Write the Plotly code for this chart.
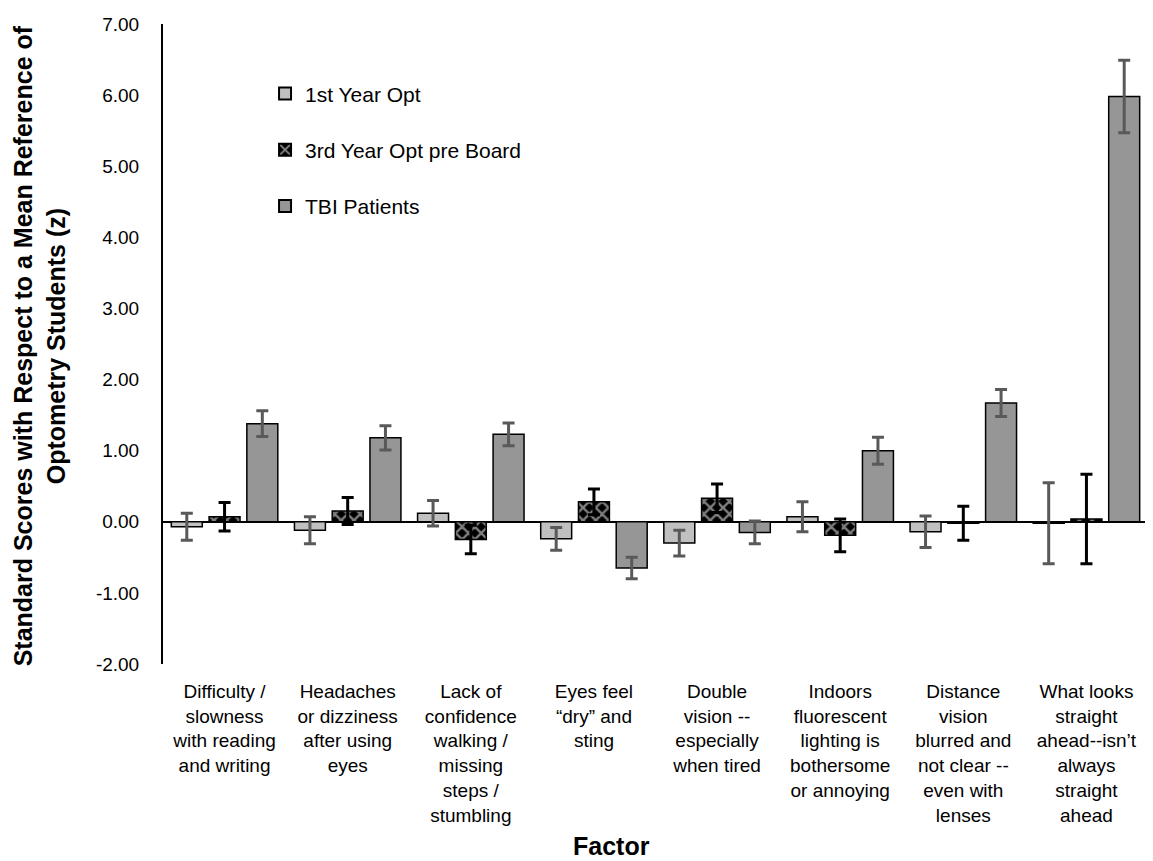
import plotly.graph_objects as go

categories = [
    "Difficulty /<br>slowness<br>with reading<br>and writing",
    "Headaches<br>or dizziness<br>after using<br>eyes",
    "Lack of<br>confidence<br>walking /<br>missing<br>steps /<br>stumbling",
    "Eyes feel<br>“dry” and<br>sting",
    "Double<br>vision --<br>especially<br>when tired",
    "Indoors<br>fluorescent<br>lighting is<br>bothersome<br>or annoying",
    "Distance<br>vision<br>blurred and<br>not clear --<br>even with<br>lenses",
    "What looks<br>straight<br>ahead--isn’t<br>always<br>straight<br>ahead",
]

first_year = [-0.07, -0.12, 0.12, -0.24, -0.30, 0.07, -0.14, -0.02]
first_year_err = [0.19, 0.19, 0.18, 0.16, 0.18, 0.21, 0.22, 0.57]
third_year = [0.07, 0.15, -0.25, 0.28, 0.33, -0.19, -0.02, 0.04]
third_year_err = [0.20, 0.19, 0.20, 0.18, 0.20, 0.23, 0.24, 0.63]
tbi = [1.38, 1.18, 1.23, -0.65, -0.15, 1.00, 1.67, 5.98]
tbi_err = [0.18, 0.17, 0.16, 0.15, 0.16, 0.19, 0.19, 0.51]

y_ticks = [-2, -1, 0, 1, 2, 3, 4, 5, 6, 7]
y_tick_text = ["-2.00", "-1.00", "0.00", "1.00", "2.00", "3.00", "4.00", "5.00", "6.00", "7.00"]

FONT = "Liberation Sans, Arial, sans-serif"

fig = go.Figure()
fig.add_trace(go.Bar(
    name="1st Year Opt", x=categories, y=first_year, legendgroup="a",
    marker=dict(color="#c0c0c0", line=dict(color="black", width=1.5)),
    error_y=dict(type="data", array=first_year_err, color="#595959", thickness=3, width=6),
))
fig.add_trace(go.Bar(
    name="3rd Year Opt pre Board", x=categories, y=third_year, legendgroup="b",
    marker=dict(color="black", line=dict(color="black", width=1.5),
                pattern=dict(shape="x", fgcolor="white", bgcolor="black", size=9, solidity=0.45)),
    error_y=dict(type="data", array=third_year_err, color="black", thickness=3, width=6),
))
fig.add_trace(go.Bar(
    name="TBI Patients", x=categories, y=tbi, legendgroup="c",
    marker=dict(color="#969696", line=dict(color="black", width=1.5)),
    error_y=dict(type="data", array=tbi_err, color="#595959", thickness=3, width=6),
))

fig.update_layout(
    width=1145, height=853,
    margin=dict(l=155, r=5, t=16, b=197),
    paper_bgcolor="white", plot_bgcolor="white",
    font=dict(family=FONT, size=19, color="black"),
    barmode="group", bargap=0.08, bargroupgap=0.18,
    showlegend=True,
    legend=dict(x=0.1036, y=0.923, xanchor="left", yanchor="top",
                bgcolor="rgba(0,0,0,0)", font=dict(size=21),
                tracegroupgap=26, itemsizing="constant"),
    xaxis=dict(
        showline=False, showgrid=False, ticks="", tickfont=dict(size=19),
        ticklabelstandoff=14, automargin=False,
    ),
    yaxis=dict(
        range=[-2, 7], tickvals=y_ticks, ticktext=y_tick_text,
        showline=True, linecolor="black", linewidth=2,
        showgrid=False, zeroline=True, zerolinecolor="black", zerolinewidth=2,
        ticks="", ticklabelstandoff=18, tickfont=dict(size=19),
        automargin=False,
    ),
    annotations=[
        dict(text="<b>Standard Scores with Respect to a Mean Reference of<br>Optometry Students (z)</b>",
             xref="paper", yref="paper", x=-0.125, y=0.4977, xanchor="center", yanchor="middle",
             textangle=-90, showarrow=False, font=dict(size=25)),
        dict(text="<b>Factor</b>", xref="paper", yref="paper", x=0.455, y=-0.284,
             xanchor="center", yanchor="middle", showarrow=False, font=dict(size=25)),
    ],
)

fig.write_html("out.html")
